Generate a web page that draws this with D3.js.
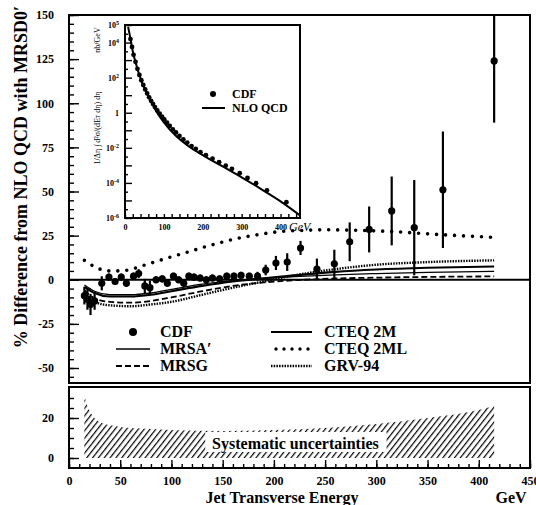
<!DOCTYPE html>
<html>
<head>
<meta charset="utf-8">
<script src="https://cdn.jsdelivr.net/npm/d3@7"></script>
<style>
  body { margin: 0; background: #fff; }
  text { font-weight: bold; fill: #000; }
  .tick line { stroke: #000; stroke-width: 1.4; }
</style>
</head>
<body>
<script>
// CDF inclusive jet data: % difference from NLO QCD (MRSD0')
var cdfE   = [15, 18, 21, 25, 32, 39, 45, 51, 56, 63, 68, 74, 79, 85, 91, 96, 102, 107, 112, 117, 122, 128, 134, 140, 147, 154, 161, 168, 176, 184, 192, 202, 213, 226, 242, 259, 274, 293, 315, 337, 365, 415];
var cdfPct = [-9, -11, -14, -12, -2, 1.5, -1, 1.5, -2, 2, 3.5, -3.5, -4.5, 0, 0.5, -2, 2, 0, -2, 2, 1.5, 1, 0, 1, 0.5, 2, 2, 2.5, 2, 2, 5.5, 9.5, 10, 18, 6, 9, 21.5, 28.5, 39, 29.5, 51, 124];
var cdfErr = [5, 6, 6, 5, 4, 2, 2, 2, 2, 2, 2.5, 4, 4, 2, 2, 2, 2, 2, 2, 2, 2, 2, 2, 2, 2, 2, 2, 2, 2, 2.5, 3, 4, 5, 4, 6, 8, 11, 13, 19.5, 27, 33, 35];

// NLO QCD ratios for other PDFs
var pdfE     = [15, 25, 40, 60, 80, 100, 130, 160, 190, 220, 260, 300, 350, 415];
var mrsaPct  = [-3, -6.5, -8.5, -8.5, -7.5, -5.5, -2.5, -0.5, 0.8, 1.8, 2.8, 3.5, 4.2, 4.8];
var cteq2m   = [-4, -7.5, -9.5, -9.5, -8.5, -6.5, -3.5, -1, 0.8, 2.5, 4.5, 5.8, 6.8, 7.5];
var mrsgPct  = [-6, -10.5, -12.5, -13, -12, -10, -6.5, -3.5, -1.5, -0.3, 0.7, 1.2, 1.6, 1.9];
var grvPct   = [-8, -12.5, -14.5, -15, -14, -12.5, -8.5, -4.5, -1, 2.5, 6, 8.5, 10, 11];
var mlE      = [15, 20, 28, 40, 50, 63, 75, 86, 100, 112, 135, 161, 184, 206, 230, 250, 280, 315, 350, 380, 415];
var cteq2ml  = [11, 9, 6.5, 5, 5, 6.3, 8.5, 10.5, 13, 15, 19, 23, 25.5, 27.3, 28, 28.3, 28, 27.3, 26, 25, 24];

// systematic uncertainty band
var sysE  = [15, 18, 22, 27, 35, 45, 60, 80, 100, 150, 200, 250, 300, 350, 400, 415];
var sysUp = [31, 26, 22, 19, 17, 16, 15, 14.5, 14, 13.5, 14, 15, 17, 20, 24, 26];

// inset: cross section (log10 nb/GeV)
var insE    = [14, 18, 22, 27, 32, 37, 42, 47, 52, 57, 62, 67, 72, 77, 83, 89, 95, 101, 108, 115, 123, 131, 140, 150, 160, 171, 182, 194, 208, 225, 242, 259, 275, 295, 315, 337, 365, 415];
var insLog  = [4.2, 3.75, 3.3, 2.9, 2.5, 2.15, 1.85, 1.58, 1.33, 1.1, 0.88, 0.68, 0.5, 0.32, 0.13, -0.05, -0.22, -0.38, -0.57, -0.75, -0.95, -1.12, -1.32, -1.52, -1.7, -1.9, -2.06, -2.25, -2.42, -2.62, -2.82, -3.02, -3.2, -3.45, -3.72, -4.02, -4.42, -5.1];
var nloE    = [8, 15, 20, 30, 40, 50, 60, 80, 100, 130, 160, 200, 250, 300, 350, 400, 450];
var nloLog  = [4.9, 4.1, 3.5, 2.65, 1.95, 1.4, 0.95, 0.1, -0.55, -1.3, -1.85, -2.42, -3.05, -3.68, -4.35, -5.05, -5.85];

var xTicks = [0, 50, 100, 150, 200, 250, 300, 350, 400, 450];
var yTopTicks = [-50, -25, 0, 25, 50, 75, 100, 125, 150];
var yBotTicks = [0, 20];
var insYTicks = [-6, -4, -2, 0, 2, 4, 5];
var insXTicks = [0, 100, 200, 300, 400];

var serif = "'Liberation Serif', 'Times New Roman', 'DejaVu Serif', serif";
var w = 536, h = 505;
var left = 69, right = 530;
var topY = 15, midY1 = 383, midY2 = 387, botY = 468;

var svg = d3.select("body").append("svg")
            .attr("width", w)
            .attr("height", h);

var defs = svg.append("defs");
defs.append("clipPath").attr("id", "clipTop")
    .append("rect").attr("x", left).attr("y", topY)
    .attr("width", right - left).attr("height", midY1 - topY);
var hatch = defs.append("pattern").attr("id", "hatch")
    .attr("patternUnits", "userSpaceOnUse")
    .attr("width", 4.6).attr("height", 4.6)
    .attr("patternTransform", "rotate(38)");
hatch.append("line").attr("x1", 0).attr("y1", 0).attr("x2", 0).attr("y2", 4.6)
    .attr("stroke", "#000").attr("stroke-width", 2.4);

var x = d3.scaleLinear().domain([0, 450]).range([left, right]);
var yTop = d3.scaleLinear().domain([-58.5, 150]).range([midY1, topY]);
var yBot = d3.scaleLinear().domain([-5, 35.5]).range([botY, midY2]);

function tickText(g, size){
  g.select(".domain").remove();
  g.selectAll("text").style("font-size", size);
}

// ---- upper panel axes
svg.append("g")
    .attr("transform", "translate(" + left + ",0)")
    .call(d3.axisLeft(yTop).tickValues(d3.range(-55, 151, 5)).tickSize(-5).tickFormat(""))
    .call(tickText, "11px");
svg.append("g")
    .attr("transform", "translate(" + left + ",0)")
    .call(d3.axisLeft(yTop).tickValues(yTopTicks).tickSize(-10).tickPadding(15)
          .tickFormat(function(d){ return String(d); }))
    .call(tickText, "12px");

// ---- lower panel axes
svg.append("g")
    .attr("transform", "translate(" + left + ",0)")
    .call(d3.axisLeft(yBot).tickValues(d3.range(0, 35, 5)).tickSize(-5).tickFormat(""))
    .call(tickText, "11px");
svg.append("g")
    .attr("transform", "translate(" + left + ",0)")
    .call(d3.axisLeft(yBot).tickValues(yBotTicks).tickSize(-10).tickPadding(15)
          .tickFormat(function(d){ return String(d); }))
    .call(tickText, "12px");

svg.append("g")
    .attr("transform", "translate(0," + botY + ")")
    .call(d3.axisBottom(x).tickValues(d3.range(0, 451, 10)).tickSize(-4).tickFormat(""))
    .call(tickText, "11px");
svg.append("g")
    .attr("transform", "translate(0," + botY + ")")
    .call(d3.axisBottom(x).tickValues(xTicks).tickSize(-8).tickPadding(8)
          .tickFormat(function(d){ return String(d); }))
    .call(tickText, "12px");

// ---- systematic band
var band = d3.area()
    .x(function(d, i){ return x(sysE[i]); })
    .y0(yBot(0))
    .y1(function(d){ return yBot(d); })
    .curve(d3.curveMonotoneX);
svg.append("path").datum(sysUp)
    .attr("d", band)
    .attr("fill", "url(#hatch)");
svg.append("rect")
    .attr("x", x(133)).attr("y", yBot(13))
    .attr("width", x(310) - x(133)).attr("height", yBot(3) - yBot(13))
    .attr("fill", "#fff");
svg.append("text")
    .attr("x", x(221)).attr("y", yBot(4.3))
    .attr("text-anchor", "middle")
    .style("font-size", "16px")
    .text("Systematic uncertainties");

// ---- theory curves
var plotTop = svg.append("g").attr("clip-path", "url(#clipTop)");

plotTop.append("line")
    .attr("x1", left).attr("x2", right)
    .attr("y1", yTop(0)).attr("y2", yTop(0))
    .attr("stroke", "#000").attr("stroke-width", 2);

function curve(xs, ys, dash, width){
  var line = d3.line()
      .x(function(d, i){ return x(xs[i]); })
      .y(function(d){ return yTop(d); })
      .curve(d3.curveMonotoneX);
  plotTop.append("path").datum(ys)
      .attr("d", line)
      .attr("fill", "none")
      .attr("stroke", "#000")
      .attr("stroke-width", width)
      .attr("stroke-linecap", dash === "0 9" ? "round" : "butt")
      .attr("stroke-dasharray", dash);
}
curve(pdfE, mrsaPct, null, 1.3);
curve(pdfE, cteq2m, null, 2.2);
curve(pdfE, mrsgPct, "6 3", 1.8);
curve(pdfE, grvPct, "1.5 1.2", 2.4);
curve(mlE, cteq2ml, "0 9", 3.6);

// ---- CDF points
plotTop.selectAll(".err")
    .data(cdfE)
    .enter().append("line")
    .attr("x1", function(d){ return x(d); })
    .attr("x2", function(d){ return x(d); })
    .attr("y1", function(d, i){ return yTop(cdfPct[i] - cdfErr[i]); })
    .attr("y2", function(d, i){ return yTop(cdfPct[i] + cdfErr[i]); })
    .attr("stroke", "#000").attr("stroke-width", 2.2);
plotTop.selectAll(".pt")
    .data(cdfE)
    .enter().append("circle")
    .attr("cx", function(d){ return x(d); })
    .attr("cy", function(d, i){ return yTop(cdfPct[i]); })
    .attr("r", 3.6);

// ---- frames
svg.append("rect").attr("x", left).attr("y", topY)
    .attr("width", right - left).attr("height", midY1 - topY)
    .attr("fill", "none").attr("stroke", "#000").attr("stroke-width", 2);
svg.append("rect").attr("x", left).attr("y", midY2)
    .attr("width", right - left).attr("height", botY - midY2)
    .attr("fill", "none").attr("stroke", "#000").attr("stroke-width", 2);

// ---- legend
var lg = svg.append("g").style("font-size", "16px");
var rows = [332, 349, 366];
lg.append("circle").attr("cx", 133).attr("cy", rows[0]).attr("r", 4);
lg.append("line").attr("x1", 116).attr("x2", 150).attr("y1", rows[1]).attr("y2", rows[1])
    .attr("stroke", "#000").attr("stroke-width", 1.3);
lg.append("line").attr("x1", 116).attr("x2", 150).attr("y1", rows[2]).attr("y2", rows[2])
    .attr("stroke", "#000").attr("stroke-width", 1.8).attr("stroke-dasharray", "6 3");
lg.append("text").attr("x", 160).attr("y", rows[0] + 5).text("CDF");
lg.append("text").attr("x", 160).attr("y", rows[1] + 5).text("MRSA\u2032");
lg.append("text").attr("x", 160).attr("y", rows[2] + 5).text("MRSG");
lg.append("line").attr("x1", 271).attr("x2", 312).attr("y1", rows[0]).attr("y2", rows[0])
    .attr("stroke", "#000").attr("stroke-width", 2.2);
lg.append("line").attr("x1", 276).attr("x2", 312).attr("y1", rows[1]).attr("y2", rows[1])
    .attr("stroke", "#000").attr("stroke-width", 3.4).attr("stroke-linecap", "round")
    .attr("stroke-dasharray", "0 8");
lg.append("line").attr("x1", 271).attr("x2", 312).attr("y1", rows[2]).attr("y2", rows[2])
    .attr("stroke", "#000").attr("stroke-width", 2.4).attr("stroke-dasharray", "1.5 1.2");
lg.append("text").attr("x", 324).attr("y", rows[0] + 5).text("CTEQ 2M");
lg.append("text").attr("x", 324).attr("y", rows[1] + 5).text("CTEQ 2ML");
lg.append("text").attr("x", 324).attr("y", rows[2] + 5).text("GRV-94");

// ---- axis titles
svg.append("text")
    .attr("transform", "translate(27," + 177 + ") rotate(-90)")
    .attr("text-anchor", "middle")
    .style("font-size", "18px")
    .text("% Difference from NLO QCD with MRSD0\u2032");
svg.append("text")
    .attr("x", 282).attr("y", 503)
    .attr("text-anchor", "middle")
    .style("font-size", "16px")
    .text("Jet Transverse Energy");
svg.append("text")
    .attr("x", 511).attr("y", 503)
    .attr("text-anchor", "middle")
    .style("font-size", "16px")
    .text("GeV");

// ---- inset
var xi = d3.scaleLinear().domain([0, 450]).range([125, 300]);
var yi = d3.scaleLog().domain([1e-6, 1e5]).range([218, 25]);
var inset = svg.append("g");
inset.append("rect").attr("x", 125).attr("y", 25)
    .attr("width", 175).attr("height", 193)
    .attr("fill", "#fff");

inset.append("g")
    .attr("transform", "translate(125,0)")
    .call(d3.axisLeft(yi).tickValues(d3.range(-6, 6).map(function(k){ return Math.pow(10, k); }))
          .tickSize(-7).tickFormat(""))
    .call(tickText, "8px");
inset.append("g")
    .attr("transform", "translate(125,0)")
    .call(d3.axisLeft(yi).tickValues(d3.range(-5.5, 5, 1).map(function(k){ return Math.pow(10, k); }))
          .tickSize(-3).tickFormat(""))
    .call(tickText, "8px");
inset.append("g")
    .attr("transform", "translate(0,218)")
    .call(d3.axisBottom(xi).tickValues(d3.range(0, 451, 20)).tickSize(-4).tickFormat(""))
    .call(tickText, "8px");
inset.append("g")
    .attr("transform", "translate(0,218)")
    .call(d3.axisBottom(xi).tickValues(insXTicks).tickSize(0).tickPadding(6)
          .tickFormat(function(d){ return String(d); }))
    .call(tickText, "8px");

var yl = inset.selectAll(".ylab").data(insYTicks).enter().append("text")
    .attr("x", 119)
    .attr("y", function(d){ return yi(Math.pow(10, d)) + 3; })
    .attr("text-anchor", "end")
    .style("font-size", "8px");
yl.append("tspan").text(function(d){ return d === 0 ? "1" : "10"; });
yl.filter(function(d){ return d !== 0; }).append("tspan")
    .attr("dy", -3).style("font-size", "6px")
    .text(function(d){ return d < 0 ? "-" + (-d) : String(d); });

var nloLine = d3.line()
    .x(function(d, i){ return xi(nloE[i]); })
    .y(function(d){ return yi(Math.pow(10, d)); })
    .curve(d3.curveMonotoneX);
inset.append("path").datum(nloLog)
    .attr("d", nloLine)
    .attr("fill", "none").attr("stroke", "#000").attr("stroke-width", 2);
inset.selectAll(".ipt").data(insE).enter().append("circle")
    .attr("cx", function(d){ return xi(d); })
    .attr("cy", function(d, i){ return yi(Math.pow(10, insLog[i])); })
    .attr("r", 2.4);

inset.append("rect").attr("x", 125).attr("y", 25)
    .attr("width", 175).attr("height", 193)
    .attr("fill", "none").attr("stroke", "#000").attr("stroke-width", 2);

inset.append("text")
    .attr("x", 289).attr("y", 231)
    .style("font-size", "12px").style("font-style", "italic").style("font-weight", "normal")
    .text("GeV");

inset.append("circle").attr("cx", 213).attr("cy", 94).attr("r", 3);
inset.append("line").attr("x1", 202).attr("x2", 225).attr("y1", 108).attr("y2", 108)
    .attr("stroke", "#000").attr("stroke-width", 2);
inset.append("text").attr("x", 232).attr("y", 98).style("font-size", "12px").text("CDF");
inset.append("text").attr("x", 232).attr("y", 112).style("font-size", "12px").text("NLO QCD");

inset.append("text")
    .attr("transform", "translate(100,128) rotate(-90)")
    .attr("text-anchor", "middle")
    .style("font-size", "8px").style("font-weight", "normal")
    .text("1/\u0394\u03b7 \u222b d\u00b2\u03c3/(dE\u1d1b d\u03b7) d\u03b7");
inset.append("text")
    .attr("transform", "translate(100,40) rotate(-90)")
    .attr("text-anchor", "middle")
    .style("font-size", "8px").style("font-weight", "normal")
    .text("nb/GeV");

// all text in a Times-like serif
svg.selectAll("text").style("font-family", serif);
</script>
</body>
</html>
